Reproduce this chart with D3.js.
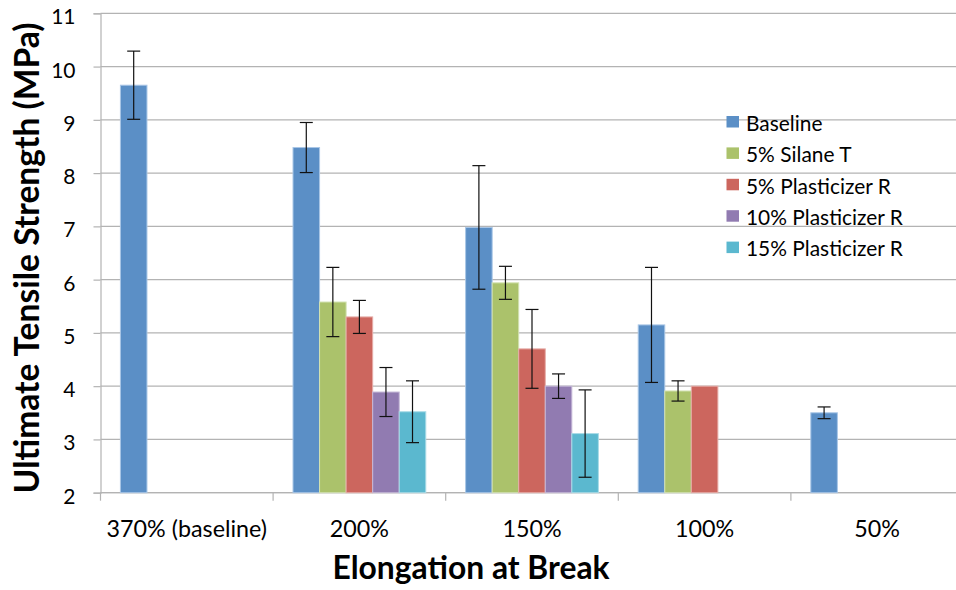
<!DOCTYPE html>
<html>
<head>
<meta charset="utf-8">
<script src="https://cdn.jsdelivr.net/npm/d3@7"></script>
<style>
  html, body { margin: 0; padding: 0; background: #ffffff; }
  svg { display: block; font-family: Lato, "Open Sans", sans-serif; }
</style>
</head>
<body>
<svg id="chart" width="956" height="590"></svg>
<script>
// Elongation groups on the x axis
const categories = ["370% (baseline)", "200%", "150%", "100%", "50%"];

// Formulations (legend order)
const seriesNames = ["Baseline", "5% Silane T", "5% Plasticizer R", "10% Plasticizer R", "15% Plasticizer R"];

// Mean ultimate tensile strength (MPa) per group; null = not tested
const baseline     = [9.65, 8.48, 6.98, 5.15, 3.50];
const silaneT5     = [null, 5.58, 5.94, 3.91, null];
const plastR5      = [null, 5.30, 4.70, 4.00, null];
const plastR10     = [null, 3.89, 4.00, null, null];
const plastR15     = [null, 3.52, 3.11, null, null];

// Standard deviation (MPa) shown as error bars; null = no bar
const baselineErr  = [0.64, 0.47, 1.16, 1.08, 0.11];
const silaneT5Err  = [null, 0.65, 0.31, 0.19, null];
const plastR5Err   = [null, 0.31, 0.74, null, null];
const plastR10Err  = [null, 0.46, 0.23, null, null];
const plastR15Err  = [null, 0.58, 0.82, null, null];

const yTicks = [2, 3, 4, 5, 6, 7, 8, 9, 10, 11];

const seriesValues = [baseline, silaneT5, plastR5, plastR10, plastR15];
const seriesErrors = [baselineErr, silaneT5Err, plastR5Err, plastR10Err, plastR15Err];
const colors = ["#5b8fc6", "#abc26b", "#cc665e", "#917bb1", "#5bb8cf"];
const strokes = ["#a9c6e6", "#d3e2b3", "#e6aca7", "#c5b8d8", "#a9dbe7"];

const svg = d3.select("#chart");
const W = 956, H = 590;
const plot = { left: 100.5, top: 13.3, bottom: 492.7 };
const catStep = 172.6;

const x0 = d3.scaleBand()
  .domain(categories)
  .range([plot.left, plot.left + catStep * categories.length])
  .paddingInner(0).paddingOuter(0);

const x1 = d3.scaleBand()
  .domain(seriesNames)
  .range([0, x0.bandwidth()])
  .paddingInner(0).paddingOuter(0.75);

const y = d3.scaleLinear().domain([2, 11]).range([plot.bottom, plot.top]);

// Horizontal gridlines
svg.append("g").selectAll("line")
  .data(yTicks)
  .join("line")
  .attr("x1", plot.left).attr("x2", W)
  .attr("y1", d => y(d)).attr("y2", d => y(d))
  .attr("stroke", "#b3b3b3").attr("stroke-width", 1.2);

// Y axis line and ticks
const yAxis = d3.axisLeft(y).tickValues(yTicks).tickSize(7).tickFormat(d3.format("d"));
const gy = svg.append("g").attr("transform", `translate(${plot.left},0)`).call(yAxis);
gy.select(".domain").attr("stroke", "#b3b3b3").attr("stroke-width", 1.2);
gy.selectAll(".tick line").attr("stroke", "#b3b3b3").attr("stroke-width", 1.2);
gy.selectAll(".tick text")
  .attr("x", -25).attr("dy", null).attr("y", 10.5)
  .attr("fill", "#000").style("font-size", "21px").style("font-family", "Lato");

// X axis baseline with tick marks at group boundaries
const boundaries = d3.range(categories.length + 1).map(i => plot.left + i * catStep);
svg.append("line")
  .attr("x1", plot.left).attr("x2", W)
  .attr("y1", plot.bottom).attr("y2", plot.bottom)
  .attr("stroke", "#b3b3b3").attr("stroke-width", 1.2);
svg.append("g").selectAll("line")
  .data(boundaries)
  .join("line")
  .attr("x1", d => d).attr("x2", d => d)
  .attr("y1", plot.bottom).attr("y2", plot.bottom + 8)
  .attr("stroke", "#b3b3b3").attr("stroke-width", 1.2);

// Category labels
svg.append("g").selectAll("text")
  .data(categories)
  .join("text")
  .attr("x", d => x0(d) + x0.bandwidth() / 2)
  .attr("y", 537)
  .attr("text-anchor", "middle")
  .style("font-size", "23.3px")
  .text(d => d);

// Bars and error bars
const rows = [];
seriesNames.forEach((s, si) => {
  categories.forEach((c, ci) => {
    const v = seriesValues[si][ci];
    if (v != null) rows.push({ s, si, c, v, e: seriesErrors[si][ci] });
  });
});

svg.append("g").selectAll("rect")
  .data(rows)
  .join("rect")
  .attr("x", d => x0(d.c) + x1(d.s))
  .attr("y", d => y(d.v))
  .attr("width", x1.bandwidth())
  .attr("height", d => y(2) - y(d.v))
  .attr("fill", d => colors[d.si])
  .attr("stroke", d => strokes[d.si])
  .attr("stroke-width", 1);

const eb = svg.append("g").attr("stroke", "#111").attr("stroke-width", 1.2);
rows.filter(d => d.e != null).forEach(d => {
  const cx = x0(d.c) + x1(d.s) + x1.bandwidth() / 2;
  const yHi = y(d.v + d.e), yLo = y(d.v - d.e);
  eb.append("line").attr("x1", cx).attr("x2", cx).attr("y1", yHi).attr("y2", yLo);
  eb.append("line").attr("x1", cx - 6.5).attr("x2", cx + 6.5).attr("y1", yHi).attr("y2", yHi);
  eb.append("line").attr("x1", cx - 6.5).attr("x2", cx + 6.5).attr("y1", yLo).attr("y2", yLo);
});

// Legend
const legend = svg.append("g").attr("transform", "translate(726.5,116)");
const li = legend.selectAll("g")
  .data(seriesNames)
  .join("g")
  .attr("transform", (d, i) => `translate(0,${i * 31.4})`);
li.append("rect")
  .attr("width", 12.5).attr("height", 11.5)
  .attr("fill", (d, i) => colors[i]);
li.append("text")
  .attr("x", 19.5).attr("y", 14.7)
  .style("font-size", "20.9px")
  .text(d => d);

// Axis titles
svg.append("text")
  .attr("x", 471).attr("y", 579)
  .attr("text-anchor", "middle")
  .style("font-size", "31.8px").style("font-weight", "bold")
  .text("Elongation at Break");

svg.append("text")
  .attr("transform", "translate(39,258) rotate(-90)")
  .attr("text-anchor", "middle")
  .style("font-size", "33.6px").style("font-weight", "bold")
  .text("Ultimate Tensile Strength (MPa)");
</script>
</body>
</html>
